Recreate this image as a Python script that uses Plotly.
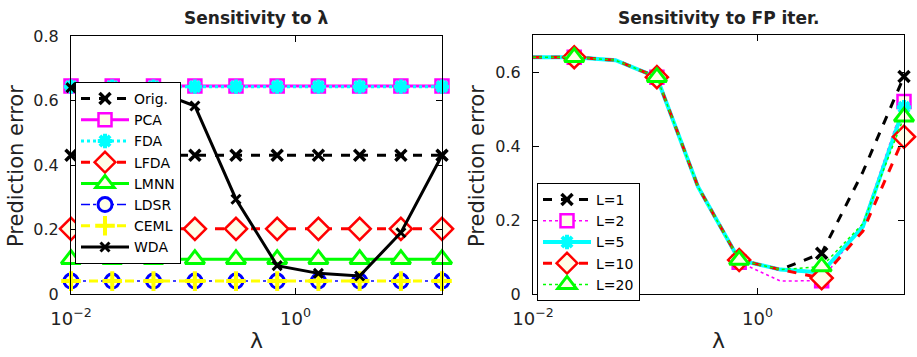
import math
import plotly.graph_objects as go

# ---------------- data ----------------
lam = [0.01, 0.0233, 0.0543, 0.127, 0.295, 0.687, 1.60, 3.73, 8.69, 20.2]

orig = [0.43, 0.43, 0.43, 0.43, 0.43, 0.43, 0.43, 0.43, 0.43, 0.43]
pca = [0.645, 0.645, 0.645, 0.645, 0.645, 0.645, 0.645, 0.645, 0.645, 0.645]
fda = [0.643, 0.643, 0.643, 0.643, 0.643, 0.643, 0.643, 0.643, 0.643, 0.643]
lfda = [0.202, 0.202, 0.202, 0.202, 0.202, 0.202, 0.202, 0.202, 0.202, 0.202]
lmnn = [0.108, 0.108, 0.108, 0.108, 0.108, 0.108, 0.108, 0.108, 0.108, 0.108]
ldsr = [0.04, 0.04, 0.04, 0.04, 0.04, 0.04, 0.04, 0.04, 0.04, 0.04]
ceml = [0.04, 0.04, 0.04, 0.04, 0.04, 0.04, 0.04, 0.04, 0.04, 0.04]
wda = [0.64, 0.64, 0.632, 0.583, 0.294, 0.088, 0.064, 0.056, 0.19, 0.43]

L1 = [0.64, 0.64, 0.632, 0.586, 0.29, 0.092, 0.066, 0.11, 0.33, 0.588]
L2 = [0.64, 0.64, 0.632, 0.586, 0.29, 0.086, 0.035, 0.036, 0.19, 0.52]
L5 = [0.64, 0.64, 0.632, 0.586, 0.29, 0.092, 0.066, 0.058, 0.182, 0.505]
L10 = [0.64, 0.64, 0.632, 0.586, 0.29, 0.092, 0.066, 0.043, 0.17, 0.425]
L20 = [0.64, 0.64, 0.632, 0.586, 0.29, 0.092, 0.066, 0.074, 0.19, 0.479]

left_names = ["Orig.", "PCA", "FDA", "LFDA", "LMNN", "LDSR", "CEML", "WDA"]
left_values = [orig, pca, fda, lfda, lmnn, ldsr, ceml, wda]
right_names = ["L=1", "L=2", "L=5", "L=10", "L=20"]
right_values = [L1, L2, L5, L10, L20]

x_tickvals = [0.01, 1]
x_ticktext = ["10<sup>−2</sup>", "10<sup>0</sup>"]
left_yticks = [0, 0.2, 0.4, 0.6, 0.8]
left_yticktext = ["0", "0.2", "0.4", "0.6", "0.8"]
right_yticks = [0, 0.2, 0.4, 0.6]
right_yticktext = ["0", "0.2", "0.4", "0.6"]

# ---------------- styles ----------------
CREAM = "#FFFEE8"
FONT = "DejaVu Sans"

left_styles = [
    dict(color="black", dash="dash", width=3, symbol="x-thin-open", msize=11, mfill="black", mlw=3.5),
    dict(color="#FF00FF", dash="solid", width=3, symbol="square", msize=13, mfill=CREAM, mlw=2.5),
    dict(color="#00FFFF", dash="dot", width=3, symbol="asterisk-open", msize=12, mfill="#00FFFF", mlw=4),
    dict(color="#FF0000", dash="dash", width=3, symbol="diamond", msize=17, mfill=CREAM, mlw=2.5),
    dict(color="#00FF00", dash="solid", width=3, symbol="triangle-up", msize=17, mfill=CREAM, mlw=3),
    dict(color="#0000FF", dash="dashdot", width=1.5, symbol="circle", msize=14, mfill=CREAM, mlw=3),
    dict(color="#FFFF00", dash="dash", width=3, symbol="cross-thin-open", msize=14, mfill="#FFFF00", mlw=4),
    dict(color="black", dash="solid", width=3, symbol="x-thin-open", msize=9, mfill="black", mlw=3),
]

right_styles = [
    dict(color="black", dash="dash", width=3, symbol="x-thin-open", msize=11, mfill="black", mlw=3.5),
    dict(color="#FF00FF", dash="dot", width=1.5, symbol="square", msize=13, mfill=CREAM, mlw=2.5),
    dict(color="#00FFFF", dash="solid", width=4, symbol="asterisk-open", msize=12, mfill="#00FFFF", mlw=4),
    dict(color="#FF0000", dash="dash", width=3, symbol="diamond", msize=17, mfill=CREAM, mlw=2.5),
    dict(color="#00FF00", dash="dot", width=1.5, symbol="triangle-up", msize=17, mfill=CREAM, mlw=3),
]


def marker_of(s):
    return dict(symbol=s["symbol"], size=s["msize"], color=s["mfill"],
                line=dict(color=s["color"], width=s["mlw"]))


fig = go.Figure()

# Left subplot: markers at every point
for name, vals, s in zip(left_names, left_values, left_styles):
    fig.add_trace(go.Scatter(
        x=lam, y=vals, name=name, mode="lines+markers",
        line=dict(color=s["color"], dash=s["dash"], width=s["width"]),
        marker=marker_of(s), cliponaxis=False,
        xaxis="x", yaxis="y", legend="legend",
    ))

# Right subplot: line through all points, markers on every other point
for name, vals, s in zip(right_names, right_values, right_styles):
    fig.add_trace(go.Scatter(
        x=lam, y=vals, mode="lines", showlegend=False,
        line=dict(color=s["color"], dash=s["dash"], width=s["width"]),
        cliponaxis=False, xaxis="x2", yaxis="y2", hoverinfo="skip",
    ))
    fig.add_trace(go.Scatter(
        x=lam[1::2], y=vals[1::2], mode="markers", showlegend=False, name=name,
        marker=marker_of(s), cliponaxis=False, xaxis="x2", yaxis="y2",
    ))
    fig.add_trace(go.Scatter(
        x=[None], y=[None], name=name, mode="lines+markers",
        line=dict(color=s["color"], dash=s["dash"], width=s["width"]),
        marker=marker_of(s), xaxis="x2", yaxis="y2", legend="legend2",
    ))

xr = [math.log10(lam[0]), math.log10(lam[-1])]

common_axis = dict(
    showline=True, linecolor="black", linewidth=1, mirror="ticks",
    ticks="inside", ticklen=6, tickcolor="black", showgrid=False, zeroline=False,
    automargin=False,
)
xfont = dict(family=FONT, size=18, color="#222222")
yfont = dict(family=FONT, size=16, color="#222222")

Y0 = 1 - 294 / 357
fig.update_layout(
    template="none",
    width=917, height=357, autosize=False,
    margin=dict(l=0, r=0, t=0, b=0),
    paper_bgcolor="white", plot_bgcolor="white",
    font=dict(family=FONT, color="black"),
    xaxis=dict(type="log", range=xr, domain=[71 / 917, 442 / 917], anchor="y",
               tickvals=x_tickvals, ticktext=x_ticktext, tickfont=xfont,
               ticklabelstandoff=8, **common_axis),
    yaxis=dict(range=[0, 0.8], domain=[Y0, 1 - 36 / 357], anchor="x",
               tickvals=left_yticks, ticktext=left_yticktext, tickfont=yfont,
               ticklabelstandoff=8, **common_axis),
    xaxis2=dict(type="log", range=xr, domain=[533 / 917, 904 / 917], anchor="y2",
                tickvals=x_tickvals, ticktext=x_ticktext, tickfont=xfont,
                ticklabelstandoff=8, **common_axis),
    yaxis2=dict(range=[0, 0.7], domain=[Y0, 1 - 35 / 357], anchor="x2",
                tickvals=right_yticks, ticktext=right_yticktext, tickfont=yfont,
                ticklabelstandoff=8, **common_axis),
    legend=dict(x=75 / 917, y=1 - 82 / 357, xanchor="left", yanchor="top",
                bgcolor="white", bordercolor="black", borderwidth=1,
                font=dict(family=FONT, size=14, color="black"),
                itemwidth=48, tracegroupgap=0),
    legend2=dict(x=537 / 917, y=1 - 183 / 357, xanchor="left", yanchor="top",
                 bgcolor="white", bordercolor="black", borderwidth=1,
                 font=dict(family=FONT, size=14, color="black"),
                 itemwidth=48, tracegroupgap=0),
    showlegend=True,
)

annots = [
    dict(text="<b>Sensitivity to λ</b>", x=256.5 / 917, y=1 - 18 / 357, size=17, angle=0),
    dict(text="<b>Sensitivity to FP iter.</b>", x=718.5 / 917, y=1 - 18 / 357, size=17, angle=0),
    dict(text="Prediction error", x=16 / 917, y=1 - 166 / 357, size=21, angle=-90),
    dict(text="Prediction error", x=477 / 917, y=1 - 166 / 357, size=21, angle=-90),
    dict(text="λ", x=256.5 / 917, y=1 - 340 / 357, size=22, angle=0),
    dict(text="λ", x=718.5 / 917, y=1 - 340 / 357, size=22, angle=0),
]
for a in annots:
    fig.add_annotation(text=a["text"], x=a["x"], y=a["y"], xref="paper", yref="paper",
                       xanchor="center", yanchor="middle", showarrow=False,
                       textangle=a["angle"],
                       font=dict(family=FONT, size=a["size"], color="#222222"))

fig.write_html("out.html")
